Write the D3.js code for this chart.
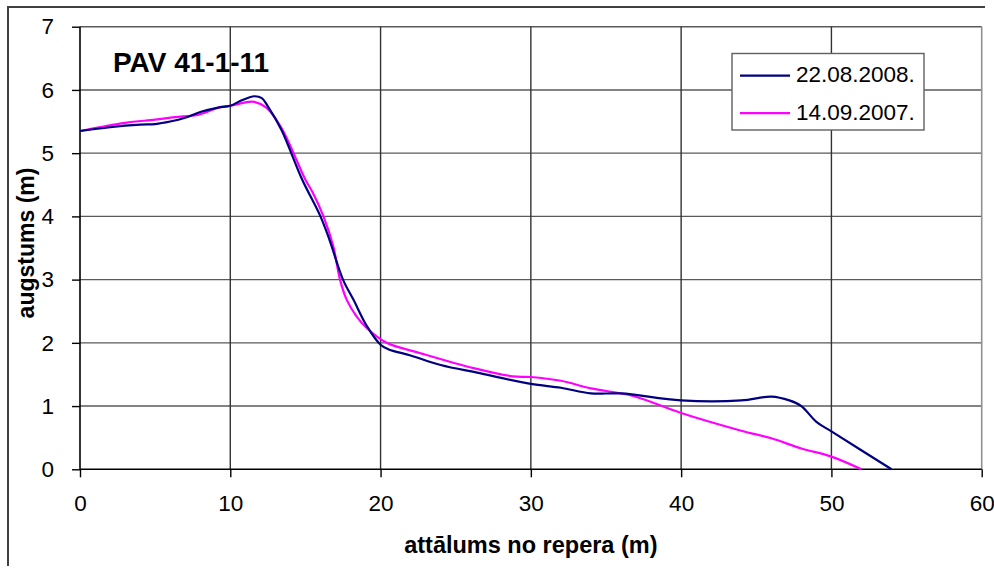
<!DOCTYPE html>
<html>
<head>
<meta charset="utf-8">
<script src="https://cdn.jsdelivr.net/npm/d3@7"></script>
<style>
  body { margin: 0; background: #fff; }
  svg { display: block; font-family: Arial, "Liberation Sans", sans-serif; }
</style>
</head>
<body>
<svg id="chart"></svg>
<script>
const width = 994;
const height = 568;
const margin = {left: 80, right: 12.3, top: 26.7, bottom: 98.7};

const chartTitle = 'PAV 41-1-11';
const xTitle = 'attālums no repera (m)';
const yTitle = 'augstums (m)';
const xTicks = [0, 10, 20, 30, 40, 50, 60];
const yTicks = [0, 1, 2, 3, 4, 5, 6, 7];

// 22.08.2008.
const dist2008 = [0, 2, 4, 5, 6, 7, 8, 9.2, 10, 10.8, 11.6, 12.1, 12.5, 13.4, 14.75, 16, 16.6, 17.5, 18.2, 19.1, 20, 20.5, 22, 24, 26.6, 30, 32, 34, 36, 40, 44, 46, 47.2, 48, 49, 50, 54];
const elev2008 = [5.35, 5.41, 5.45, 5.46, 5.5, 5.56, 5.65, 5.72, 5.75, 5.84, 5.9, 5.87, 5.74, 5.37, 4.6, 4.0, 3.63, 3.0, 2.68, 2.26, 1.97, 1.9, 1.8, 1.65, 1.52, 1.35, 1.29, 1.2, 1.2, 1.09, 1.09, 1.15, 1.09, 1.0, 0.75, 0.6, 0.0];

// 14.09.2007.
const dist2007 = [0, 3, 5, 6.3, 7.9, 9.2, 10, 11.2, 11.6, 12.4, 13.4, 15, 15.5, 16.2, 16.85, 17.3, 17.75, 18.4, 19.1, 20.4, 22.6, 26.2, 28.8, 30, 32, 34, 36.8, 40, 44, 46, 48, 50, 52];
const elev2007 = [5.35, 5.48, 5.53, 5.57, 5.61, 5.72, 5.75, 5.81, 5.81, 5.72, 5.4, 4.58, 4.37, 4.0, 3.53, 3.0, 2.68, 2.42, 2.23, 2.0, 1.84, 1.6, 1.47, 1.46, 1.4, 1.28, 1.16, 0.89, 0.61, 0.49, 0.33, 0.2, 0.0];

const series = [
    {name: '22.08.2008.', color: '#000080', x: dist2008, y: elev2008},
    {name: '14.09.2007.', color: '#ff00ff', x: dist2007, y: elev2007}
];

const svg = d3.select('#chart')
    .attr('width', width)
    .attr('height', height);

// outer chart frame (only top and left edges visible)
svg.append('path')
    .attr('d', 'M8,566 L8,7 L985,7')
    .attr('fill', 'none')
    .attr('stroke', '#404040')
    .attr('stroke-width', 2);

const x = d3.scaleLinear().domain([0, 60]).range([margin.left, width - margin.right]);
const y = d3.scaleLinear().domain([0, 7]).range([height - margin.bottom, margin.top]);

// gridlines
svg.append('g').selectAll('line')
    .data(yTicks.slice(1))
    .enter().append('line')
    .attr('x1', x(0)).attr('x2', x(60))
    .attr('y1', d => y(d)).attr('y2', d => y(d))
    .attr('stroke', '#5a5a5a')
    .attr('stroke-width', 1.4);

svg.append('g').selectAll('line')
    .data(xTicks.slice(1, -1))
    .enter().append('line')
    .attr('x1', d => x(d)).attr('x2', d => x(d))
    .attr('y1', y(0)).attr('y2', y(7))
    .attr('stroke', '#333')
    .attr('stroke-width', 1.4);

// right plot edge
svg.append('line')
    .attr('x1', x(60)).attr('x2', x(60))
    .attr('y1', y(0)).attr('y2', y(7))
    .attr('stroke', '#909090')
    .attr('stroke-width', 1.6);

// axes
const xAxis = svg.append('g')
    .attr('transform', `translate(0, ${y(0)})`)
    .call(d3.axisBottom(x).tickValues(xTicks).tickFormat(d3.format('d')).tickSize(8).tickPadding(18));

const yAxis = svg.append('g')
    .attr('transform', `translate(${x(0)}, 0)`)
    .call(d3.axisLeft(y).tickValues(yTicks).tickFormat(d3.format('d')).tickSize(8).tickPadding(18));

[xAxis, yAxis].forEach(a => {
    a.select('.domain').attr('stroke', '#000').attr('stroke-width', 1.6);
    a.selectAll('.tick line').attr('stroke', '#000').attr('stroke-width', 1.4);
    a.selectAll('.tick text')
        .attr('fill', '#000')
        .style('font-size', '22.5px')
        .style('font-family', 'Arial, "Liberation Sans", sans-serif');
});
xAxis.select('.domain').attr('d', `M${x(0)},0H${x(60)}`);
yAxis.select('.domain').attr('d', `M0,${y(0)}V${y(7)}`);

// series lines
const line = d3.line()
    .x(d => x(d[0]))
    .y(d => y(d[1]))
    .curve(d3.curveCatmullRom.alpha(0.5));

series.slice().reverse().forEach(s => {
    svg.append('path')
        .datum(s.x.map((v, i) => [v, s.y[i]]))
        .attr('fill', 'none')
        .attr('stroke', s.color)
        .attr('stroke-width', 2.2)
        .attr('d', line);
});

// chart title
svg.append('text')
    .attr('x', 113)
    .attr('y', 72)
    .style('font-size', '28px')
    .style('font-weight', 'bold')
    .text(chartTitle);

// axis titles
svg.append('text')
    .attr('x', (x(0) + x(60)) / 2)
    .attr('y', 553)
    .attr('text-anchor', 'middle')
    .style('font-size', '23.5px')
    .style('font-weight', 'bold')
    .text(xTitle);

svg.append('text')
    .attr('transform', 'translate(34, 243) rotate(-90)')
    .attr('text-anchor', 'middle')
    .style('font-size', '23px')
    .style('font-weight', 'bold')
    .text(yTitle);

// legend
const legend = svg.append('g');
legend.append('rect')
    .attr('x', 732).attr('y', 53.5)
    .attr('width', 192).attr('height', 76.5)
    .attr('fill', '#fff')
    .attr('stroke', '#606060')
    .attr('stroke-width', 1.4);

series.forEach((s, i) => {
    const ly = 75.7 + i * 37.5;
    legend.append('line')
        .attr('x1', 740).attr('x2', 790)
        .attr('y1', ly).attr('y2', ly)
        .attr('stroke', s.color)
        .attr('stroke-width', 2.2);
    legend.append('text')
        .attr('x', 796)
        .attr('y', ly + 6.5)
        .style('font-size', '22.5px')
        .text(s.name);
});
</script>
</body>
</html>
